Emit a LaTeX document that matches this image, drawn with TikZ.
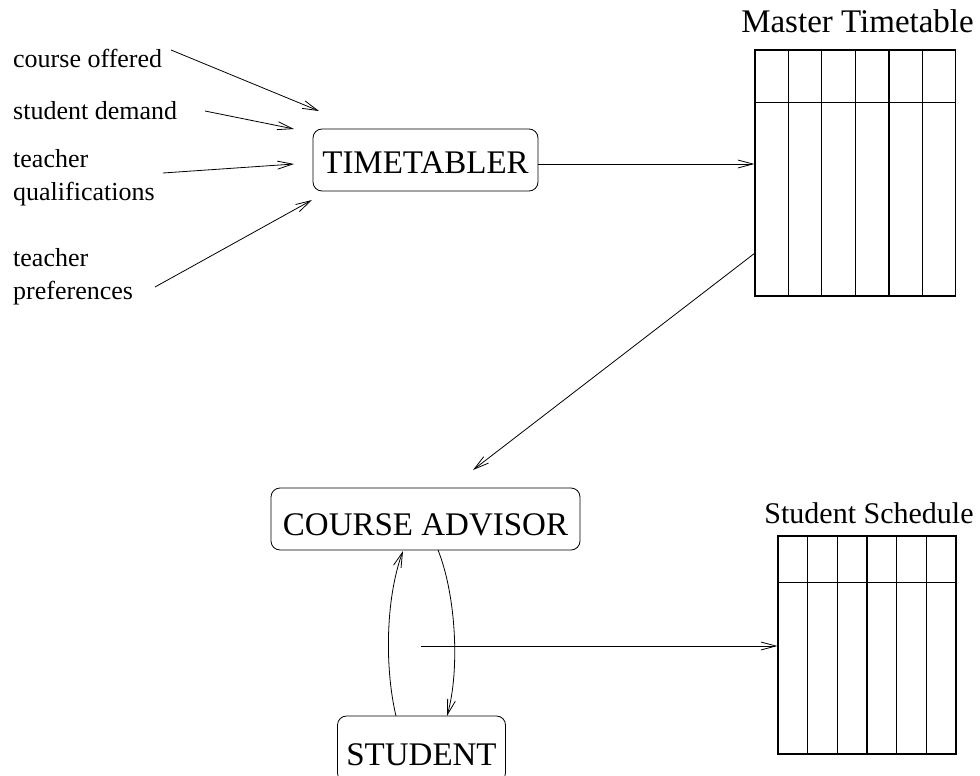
\documentclass[tikz,border=0pt]{standalone}
\usepackage{fontspec}
\setmainfont{Liberation Serif}
\usetikzlibrary{arrows.meta,calc}
\begin{document}
\begin{tikzpicture}[x=1pt,y=-1pt,
  flow/.style={-{Straight Barb[length=15pt,width=8pt]}, line width=0.8pt},
  procbox/.style={draw, rounded corners=9pt, line width=0.8pt, inner sep=0pt,
    font=\fontsize{33}{36}\selectfont, text depth=0pt},
  lbl/.style={inner sep=0pt, anchor=base west, align=left,
    font=\fontsize{26}{33}\selectfont},
  tablebox/.style={draw, line width=1.2pt, inner sep=0pt},
  rule/.style={line width=1.1pt},
  ttl/.style={inner sep=0pt, anchor=base}]
\useasboundingbox (0,0) rectangle (980,776);

% process boxes
\node[procbox, text height=26pt, minimum width=225pt, minimum height=62pt] (tt) at (425.5,160) {TIMETABLER};
\node[procbox, text height=32pt, minimum width=309pt, minimum height=62pt] (ca) at (425.5,519) {COURSE ADVISOR};
\node[procbox, text height=32pt, minimum width=168pt, minimum height=66pt] (st) at (421.5,749) {STUDENT};

% input labels (base anchor sits on the last line)
\node[lbl] (co) at (13,68) {course offered};
\node[lbl] (sd) at (13,119) {student demand};
\node[lbl] (tq) at (13,200) {teacher\\qualifications};
\node[lbl] (tp) at (13,299) {teacher\\preferences};

% master timetable
\node[tablebox, minimum width=200.7pt, minimum height=246pt] (mt) at (855.35,173) {};
\draw[rule] ([yshift=-53pt]mt.north west) -- ([yshift=-53pt]mt.north east);
\foreach \i in {1,...,5}
  \draw[rule] ($(mt.north west)!\i/6!(mt.north east)$) -- ($(mt.south west)!\i/6!(mt.south east)$);
\node[ttl, font=\fontsize{33}{36}\selectfont] (mtt) at (857.5,33) {Master Timetable};

% student schedule
\node[tablebox, minimum width=178pt, minimum height=218pt] (ss) at (867,645) {};
\draw[rule] ([yshift=-47pt]ss.north west) -- ([yshift=-47pt]ss.north east);
\foreach \i in {1,...,5}
  \draw[rule] ($(ss.north west)!\i/6!(ss.north east)$) -- ($(ss.south west)!\i/6!(ss.south east)$);
\node[ttl, font=\fontsize{30}{33}\selectfont] (sst) at (869,523) {Student Schedule};

% connector end points
\coordinate (coS) at (171,50);  \coordinate (coE) at (319,111);
\coordinate (sdS) at (205,111); \coordinate (sdE) at (294,129);
\coordinate (tqS) at (163,173); \coordinate (tqE) at (294,164);
\coordinate (tpS) at (155,287); \coordinate (tpE) at (312,200);
\coordinate (ttOut) at ([yshift=-4pt]tt.east);
\coordinate (mtOut) at (755,253); \coordinate (caIn) at (473,470);
\coordinate (stUp) at (396,716); \coordinate (caUp) at (403,551);
\coordinate (caDn) at (438,550); \coordinate (stDn) at (447,716);
\coordinate (tap) at (421,646);

% connectors
\draw[flow] (coS) -- (coE);
\draw[flow] (sdS) -- (sdE);
\draw[flow] (tqS) -- (tqE);
\draw[flow] (tpS) -- (tpE);
\draw[flow] (ttOut) -- (mt.west |- ttOut);
\draw[flow] (mtOut) -- (caIn);
\draw[flow] (stUp) .. controls (385,670) and (385,600) .. (caUp);
\draw[flow] (caDn) .. controls (456,595) and (460,670) .. (stDn);
\draw[flow] (tap) -- (ss.west |- tap);
\end{tikzpicture}
\end{document}
